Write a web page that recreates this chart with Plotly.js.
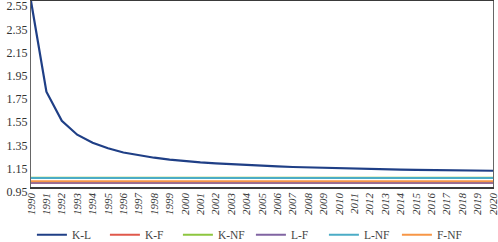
<!DOCTYPE html>
<html>
<head>
<meta charset="utf-8">
<script src="https://cdn.plot.ly/plotly-3.0.1.min.js"></script>
<style>html,body{margin:0;padding:0;background:#fff;}#chart{width:498px;height:242px;}</style>
</head>
<body>
<div id="chart"></div>
<script>
var years = ['1990','1991','1992','1993','1994','1995','1996','1997','1998','1999','2000','2001','2002','2003','2004','2005','2006','2007','2008','2009','2010','2011','2012','2013','2014','2015','2016','2017','2018','2019','2020'];
var seriesNames = ['K-L','K-F','K-NF','L-F','L-NF','F-NF'];
var kl = [2.55,1.77,1.52,1.40,1.33,1.283,1.247,1.222,1.202,1.186,1.172,1.162,1.153,1.145,1.138,1.132,1.127,1.122,1.118,1.114,1.110,1.107,1.104,1.102,1.100,1.098,1.096,1.094,1.093,1.092,1.090];
var kf = [0.987,0.987,0.987,0.987,0.987,0.987,0.987,0.987,0.987,0.987,0.987,0.987,0.987,0.987,0.987,0.987,0.987,0.987,0.987,0.987,0.987,0.987,0.987,0.987,0.987,0.987,0.987,0.987,0.987,0.987,0.987];
var knf = [1.029,1.029,1.029,1.029,1.029,1.029,1.029,1.029,1.029,1.029,1.029,1.029,1.029,1.029,1.029,1.029,1.029,1.029,1.029,1.029,1.029,1.029,1.029,1.029,1.029,1.029,1.029,1.029,1.029,1.029,1.029];
var lf = [0.987,0.987,0.987,0.987,0.987,0.987,0.987,0.987,0.987,0.987,0.987,0.987,0.987,0.987,0.987,0.987,0.987,0.987,0.987,0.987,0.987,0.987,0.987,0.987,0.987,0.987,0.987,0.987,0.987,0.987,0.987];
var lnf = [1.028,1.028,1.028,1.028,1.028,1.028,1.028,1.028,1.028,1.028,1.028,1.028,1.028,1.028,1.028,1.028,1.028,1.028,1.028,1.028,1.028,1.028,1.028,1.028,1.028,1.028,1.028,1.028,1.028,1.028,1.028];
var fnf = [0.999,0.999,0.999,0.999,0.999,0.999,0.999,0.999,0.999,0.999,0.999,0.999,0.999,0.999,0.999,0.999,0.999,0.999,0.999,0.999,0.999,0.999,0.999,0.999,0.999,0.999,0.999,0.999,0.999,0.999,0.999];
var yTicks = [0.95,1.15,1.35,1.55,1.75,1.95,2.15,2.35,2.55];

var colors = ['#1F3F86','#E0584B','#8DC63F','#8064A2','#4BACC6','#F79646'];
var values = [kl,kf,knf,lf,lnf,fnf];
var traces = values.map(function(v,i){
  return {x: years, y: v, type:'scatter', mode:'lines', name: seriesNames[i],
    line:{color:colors[i], width: i===0 ? 2.2 : 2}};
});

var layout = {
  width:498, height:242,
  margin:{l:31, r:5, t:1, b:55},
  paper_bgcolor:'#fff', plot_bgcolor:'#fff',
  showlegend:true,
  font:{family:'Liberation Serif, serif', size:11, color:'#333'},
  xaxis:{type:'category', range:[0,30], tickangle:-90, showgrid:false, zeroline:false,
    showline:true, linecolor:'#3a3a3a', linewidth:1.5, mirror:true, ticks:'', automargin:false,
    tickfont:{family:'Liberation Serif, serif', size:11, style:'italic', color:'#333'}},
  yaxis:{range:[0.95,2.5505], tickvals:yTicks, ticktext:yTicks.map(function(t){return t.toFixed(2);}),
    showgrid:false, zeroline:false, showline:true, linecolor:'#666', linewidth:1.2, mirror:true, ticks:'', automargin:false,
    ticklabelstandoff:0, ticklabeloverflow:'allow', ticklabelshift:5,
    tickfont:{family:'Liberation Serif, serif', size:12, color:'#333'}},
  legend:{orientation:'h', x:0.476, xanchor:'center', yref:'container', y:0.03, yanchor:'middle',
    entrywidth:28, entrywidthmode:'pixels',
    font:{family:'Liberation Serif, serif', size:11.5, color:'#444'}, itemwidth:30, tracegroupgap:0}
};
Plotly.newPlot('chart', traces, layout, {displayModeBar:false, staticPlot:true});
</script>
</body>
</html>
